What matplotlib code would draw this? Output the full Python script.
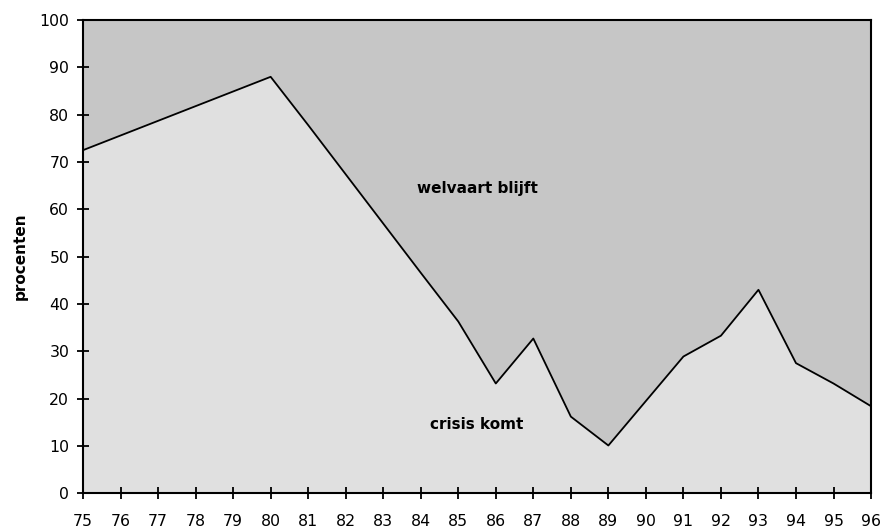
import matplotlib
matplotlib.use("Agg")
import matplotlib.pyplot as plt

# jaren (75 = 1975) en percentage "crisis komt"
years = [75, 76, 77, 78, 79, 80, 81, 82, 83, 84, 85,
         86, 87, 88, 89, 90, 91, 92, 93, 94, 95, 96]
crisis = [72.5, 75.6, 78.7, 81.8, 84.9, 88.0, 77.8, 67.4, 57.0, 46.6, 36.3,
          23.2, 32.7, 16.2, 10.1, 19.5, 28.9, 33.3, 43.0, 27.5, 23.2, 18.4]
welvaart = [100 - v for v in crisis]

plt.rcParams["font.family"] = ["DejaVu Sans"]

fig = plt.figure(figsize=(8.87, 5.31), dpi=100)
ax = fig.add_axes([0.0936, 0.071, 0.8884, 0.8913])

ax.stackplot(years, crisis, welvaart, colors=["#e0e0e0", "#c6c6c6"])
ax.plot(years, crisis, color="black", lw=1.3)

ax.set_xlim(75, 96)
ax.set_ylim(0, 100)
ax.set_xticks(years)
ax.set_xticklabels([str(y) for y in years])
ax.set_yticks(range(0, 101, 10))
ax.tick_params(direction="inout", length=8, width=1.3, labelsize=11.3)
ax.tick_params(axis="x", pad=11)
ax.tick_params(axis="y", pad=6)
for s in ax.spines.values():
    s.set_linewidth(1.5)

ax.text(85.5, 64.5, "welvaart blijft", ha="center", va="center",
        fontsize=11, fontweight="bold")
ax.text(85.5, 14.6, "crisis komt", ha="center", va="center",
        fontsize=11, fontweight="bold")
ax.set_ylabel("procenten", fontsize=11, fontweight="bold", labelpad=8)

fig.savefig("out.png", dpi=100)
